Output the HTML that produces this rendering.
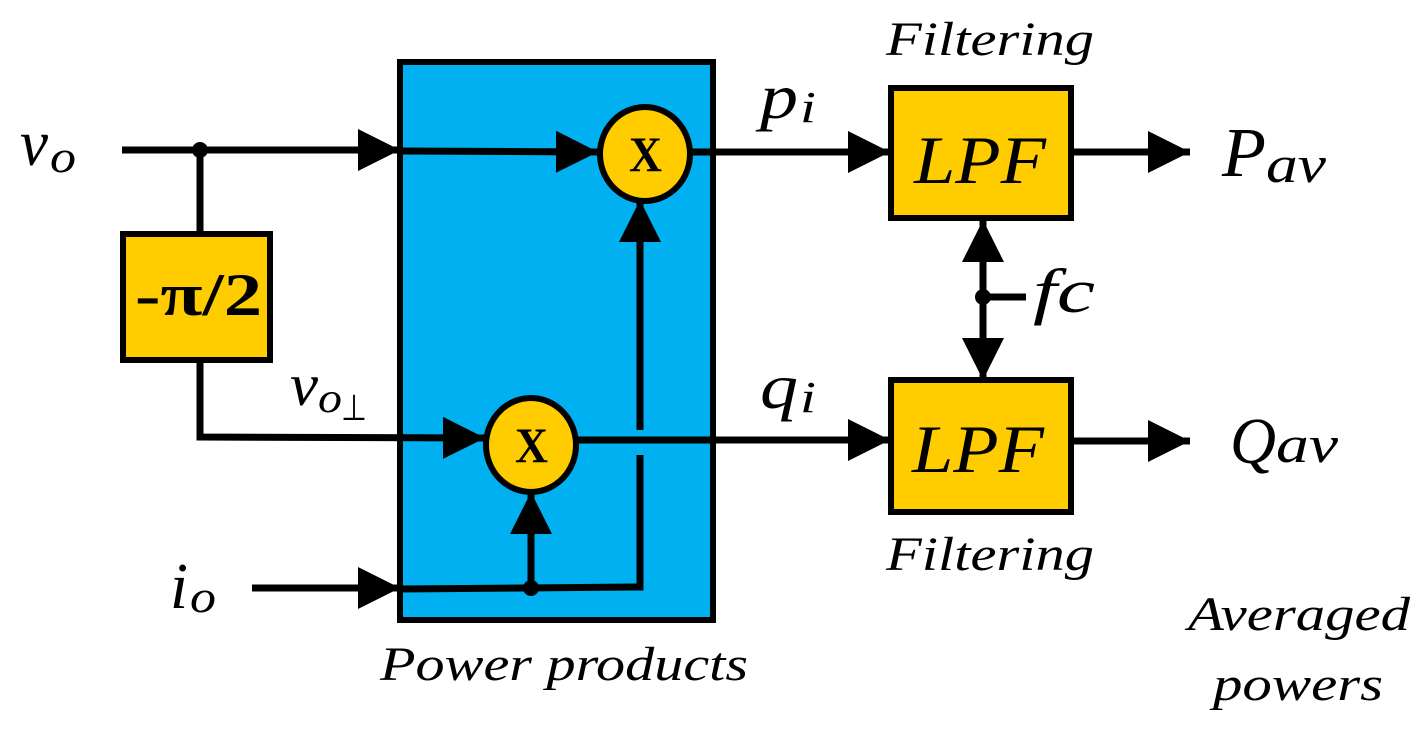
<!DOCTYPE html>
<html><head><meta charset="utf-8"><style>
body{margin:0;background:#fff}
svg{display:block}
text{font-family:"Liberation Serif","Times New Roman",serif}
</style></head><body>
<svg width="1426" height="730" viewBox="0 0 1426 730">
<defs>
<marker id="a" markerUnits="userSpaceOnUse" markerWidth="46" markerHeight="46" refX="42" refY="21" orient="auto"><path d="M0,0 L42,21 L0,42 Z" fill="#000"/></marker>
</defs>
<rect x="400" y="62" width="313" height="558" fill="#00B0F0" stroke="#000" stroke-width="6"/>
<rect x="123" y="234" width="147" height="126" fill="#FFCC00" stroke="#000" stroke-width="6"/>
<text x="135" y="315" font-size="60" font-weight="bold" textLength="127" lengthAdjust="spacingAndGlyphs">-π/2</text>
<rect x="891" y="88" width="180" height="130" fill="#FFCC00" stroke="#000" stroke-width="6"/>
<rect x="891" y="380" width="180" height="132" fill="#FFCC00" stroke="#000" stroke-width="6"/>
<text x="914" y="183" font-size="68" font-style="italic" textLength="132" lengthAdjust="spacingAndGlyphs">LPF</text>
<text x="912" y="472" font-size="68" font-style="italic" textLength="132" lengthAdjust="spacingAndGlyphs">LPF</text>
<g stroke="#000" stroke-width="7" fill="none">
<line x1="122" y1="150" x2="400" y2="150" marker-end="url(#a)"/>
<line x1="400" y1="151" x2="598" y2="152" marker-end="url(#a)"/>
<line x1="200" y1="150" x2="200" y2="234"/>
<polyline points="200,360 200,437 485,438" marker-end="url(#a)"/>
<line x1="252" y1="588" x2="400" y2="588" marker-end="url(#a)"/>
<polyline points="400,589 640,587 640,455"/>
<line x1="640" y1="430" x2="640" y2="200" marker-end="url(#a)"/>
<line x1="531" y1="588" x2="531" y2="492" marker-end="url(#a)"/>
<line x1="692" y1="152" x2="890" y2="152" marker-end="url(#a)"/>
<line x1="578" y1="440" x2="890" y2="440" marker-end="url(#a)"/>
<line x1="1071" y1="152" x2="1190" y2="152" marker-end="url(#a)"/>
<line x1="1071" y1="441" x2="1190" y2="441" marker-end="url(#a)"/>
<line x1="983" y1="297" x2="983" y2="220" marker-end="url(#a)"/>
<line x1="983" y1="297" x2="983" y2="380" marker-end="url(#a)"/>
<line x1="983" y1="297" x2="1026" y2="297"/>
</g>
<g fill="#000"><circle cx="200" cy="150" r="8"/><circle cx="531" cy="588" r="8"/><circle cx="983" cy="297" r="8"/></g>
<ellipse cx="645" cy="154" rx="45" ry="47" fill="#FFCC00" stroke="#000" stroke-width="6"/>
<ellipse cx="531" cy="445" rx="45" ry="47" fill="#FFCC00" stroke="#000" stroke-width="6"/>
<text x="629" y="171" font-size="50" font-weight="bold" textLength="33" lengthAdjust="spacingAndGlyphs">X</text>
<text x="515" y="462" font-size="50" font-weight="bold" textLength="33" lengthAdjust="spacingAndGlyphs">X</text>
<g font-style="italic">
<text x="20" y="165" font-size="66" textLength="28" lengthAdjust="spacingAndGlyphs">v</text>
<text x="50" y="172" font-size="46" textLength="26" lengthAdjust="spacingAndGlyphs">o</text>
<text x="290" y="405" font-size="60" textLength="28" lengthAdjust="spacingAndGlyphs">v</text>
<text x="318" y="412" font-size="42" textLength="24" lengthAdjust="spacingAndGlyphs">o</text>
<text x="341" y="420" font-size="36" font-style="normal" textLength="26" lengthAdjust="spacingAndGlyphs">⊥</text>
<text x="170" y="608" font-size="66" textLength="18" lengthAdjust="spacingAndGlyphs">i</text>
<text x="190" y="612" font-size="46" textLength="26" lengthAdjust="spacingAndGlyphs">o</text>
<text x="760" y="118" font-size="64" textLength="38" lengthAdjust="spacingAndGlyphs">p</text>
<text x="800" y="122" font-size="44" textLength="16" lengthAdjust="spacingAndGlyphs">i</text>
<text x="760" y="408" font-size="64" textLength="38" lengthAdjust="spacingAndGlyphs">q</text>
<text x="800" y="412" font-size="44" textLength="16" lengthAdjust="spacingAndGlyphs">i</text>
<text x="886" y="55" font-size="48" textLength="208" lengthAdjust="spacingAndGlyphs">Filtering</text>
<text x="886" y="570" font-size="48" textLength="208" lengthAdjust="spacingAndGlyphs">Filtering</text>
<text x="380" y="680" font-size="48" textLength="368" lengthAdjust="spacingAndGlyphs">Power products</text>
<text x="1222" y="176" font-size="70" textLength="44" lengthAdjust="spacingAndGlyphs">P</text>
<text x="1266" y="182" font-size="52" textLength="60" lengthAdjust="spacingAndGlyphs">av</text>
<text x="1230" y="463" font-size="66" textLength="46" lengthAdjust="spacingAndGlyphs">Q</text>
<text x="1276" y="462" font-size="52" textLength="62" lengthAdjust="spacingAndGlyphs">av</text>
<text x="1033" y="312" font-size="62" textLength="62" lengthAdjust="spacingAndGlyphs">fc</text>
<text x="1188" y="630" font-size="48" textLength="222" lengthAdjust="spacingAndGlyphs">Averaged</text>
<text x="1213" y="700" font-size="48" textLength="170" lengthAdjust="spacingAndGlyphs">powers</text>
</g>
</svg>
</body></html>
